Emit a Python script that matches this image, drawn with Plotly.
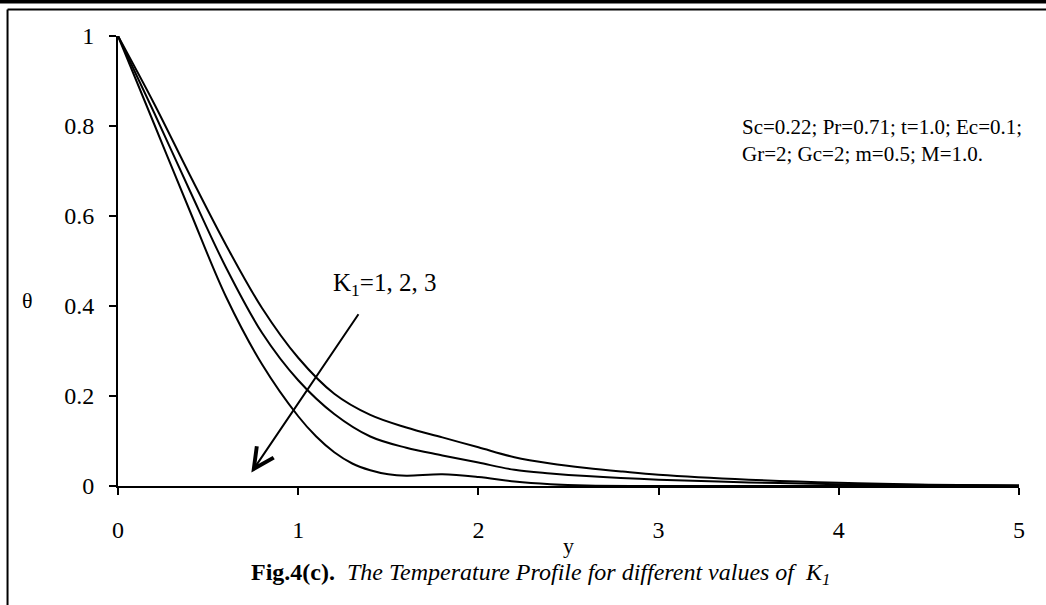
import plotly.graph_objects as go

# theta profiles, one list per K1 value
y_k1 = [0, 0.2, 0.4, 0.6, 0.8, 1.0, 1.2, 1.4, 1.6, 1.8, 2.0, 2.2, 2.4, 2.6, 2.8, 3.0, 3.5, 4.0, 4.5, 5.0]
theta_k1 = [1, 0.85, 0.69, 0.535, 0.395, 0.285, 0.205, 0.158, 0.13, 0.108, 0.086, 0.064, 0.05, 0.04, 0.032, 0.025, 0.014, 0.007, 0.003, 0.001]

y_k2 = [0, 0.2, 0.4, 0.6, 0.8, 1.0, 1.2, 1.4, 1.6, 1.8, 2.0, 2.2, 2.4, 2.6, 3.0, 3.5, 4.0, 4.5, 5.0]
theta_k2 = [1, 0.83, 0.655, 0.485, 0.34, 0.235, 0.16, 0.11, 0.085, 0.068, 0.052, 0.036, 0.028, 0.022, 0.014, 0.008, 0.004, 0.002, 0.001]

y_k3 = [0, 0.2, 0.4, 0.6, 0.8, 1.0, 1.1, 1.2, 1.3, 1.4, 1.5, 1.6, 1.8, 2.0, 2.2, 2.4, 2.6, 3.0, 4.0, 5.0]
theta_k3 = [1, 0.805, 0.61, 0.42, 0.27, 0.155, 0.11, 0.075, 0.05, 0.035, 0.026, 0.023, 0.026, 0.02, 0.01, 0.004, 0.001, 0, 0, 0]

x_ticks = [0, 1, 2, 3, 4, 5]
y_ticks = [0, 0.2, 0.4, 0.6, 0.8, 1]

SERIF = "Liberation Serif, Times New Roman, serif"

fig = go.Figure()
for xs, ys, name in [(y_k1, theta_k1, "K1=1"), (y_k2, theta_k2, "K1=2"), (y_k3, theta_k3, "K1=3")]:
    fig.add_trace(go.Scatter(
        x=xs, y=ys, name=name, mode="lines",
        line=dict(color="black", width=2, shape="spline", smoothing=1),
        showlegend=False,
    ))

fig.update_layout(
    width=1046, height=605,
    margin=dict(l=118, r=27, t=36, b=119),
    paper_bgcolor="white", plot_bgcolor="white",
    font=dict(family=SERIF, size=22, color="black"),
)

fig.update_xaxes(
    range=[0, 5], tickvals=x_ticks, ticks="outside", ticklen=7, tickwidth=2,
    tickcolor="black", showline=True, linecolor="black", linewidth=2,
    showgrid=False, zeroline=False, ticklabelstandoff=14,
    tickfont=dict(size=24, family=SERIF),
)
fig.update_yaxes(
    range=[0, 1], tickvals=y_ticks, ticks="outside", ticklen=7, tickwidth=2,
    tickcolor="black", showline=True, linecolor="black", linewidth=2,
    showgrid=False, zeroline=False, ticklabelstandoff=10,
    tickfont=dict(size=24, family=SERIF),
)

# axis titles and caption
fig.add_annotation(text="y", xref="paper", yref="paper", x=0.5, y=-0.132,
                   showarrow=False, font=dict(size=22), yanchor="middle")
fig.add_annotation(text="θ", xref="paper", yref="paper", x=-0.1, y=0.413,
                   showarrow=False, font=dict(size=22), xanchor="center")
fig.add_annotation(
    text="<b>Fig.4(c).</b>  <i>The Temperature Profile for different values of  K<sub>1</sub></i>",
    xref="paper", yref="paper", x=0.469, y=-0.195, showarrow=False,
    font=dict(size=24), yanchor="middle",
)

# parameter box text
fig.add_annotation(
    text="Sc=0.22; Pr=0.71; t=1.0; Ec=0.1;<br>Gr=2; Gc=2; m=0.5; M=1.0.",
    x=3.45, y=0.768, xref="x", yref="y", showarrow=False, align="left",
    xanchor="left", yanchor="middle", font=dict(size=21),
)

# arrow showing increasing K1
fig.add_annotation(
    x=0.74, y=0.03, ax=1.34, ay=0.385, xref="x", yref="y", axref="x", ayref="y",
    showarrow=True, arrowhead=5, arrowsize=2, arrowwidth=2, arrowcolor="black", text="",
)
fig.add_annotation(text="K<sub>1</sub>=1, 2, 3", x=1.18, y=0.447, xref="x", yref="y",
                   showarrow=False, xanchor="left", font=dict(size=25))

# page frame lines
fig.add_shape(type="rect", xref="paper", yref="paper", x0=-0.14, x1=1.04, y0=1.0722, y1=1.09,
              fillcolor="black", line=dict(width=0))
fig.add_shape(type="line", xref="paper", yref="paper", x0=-0.1226, x1=1.04, y0=1.0589, y1=1.0589,
              line=dict(color="black", width=2))
fig.add_shape(type="line", xref="paper", yref="paper", x0=-0.1226, x1=-0.1226, y0=1.0589, y1=-0.28,
              line=dict(color="black", width=2))

# drop the default body margin so the figure sits at the page corner
fig.write_html("out.html", config={"displayModeBar": False},
               post_script="document.body.style.margin='0';")
